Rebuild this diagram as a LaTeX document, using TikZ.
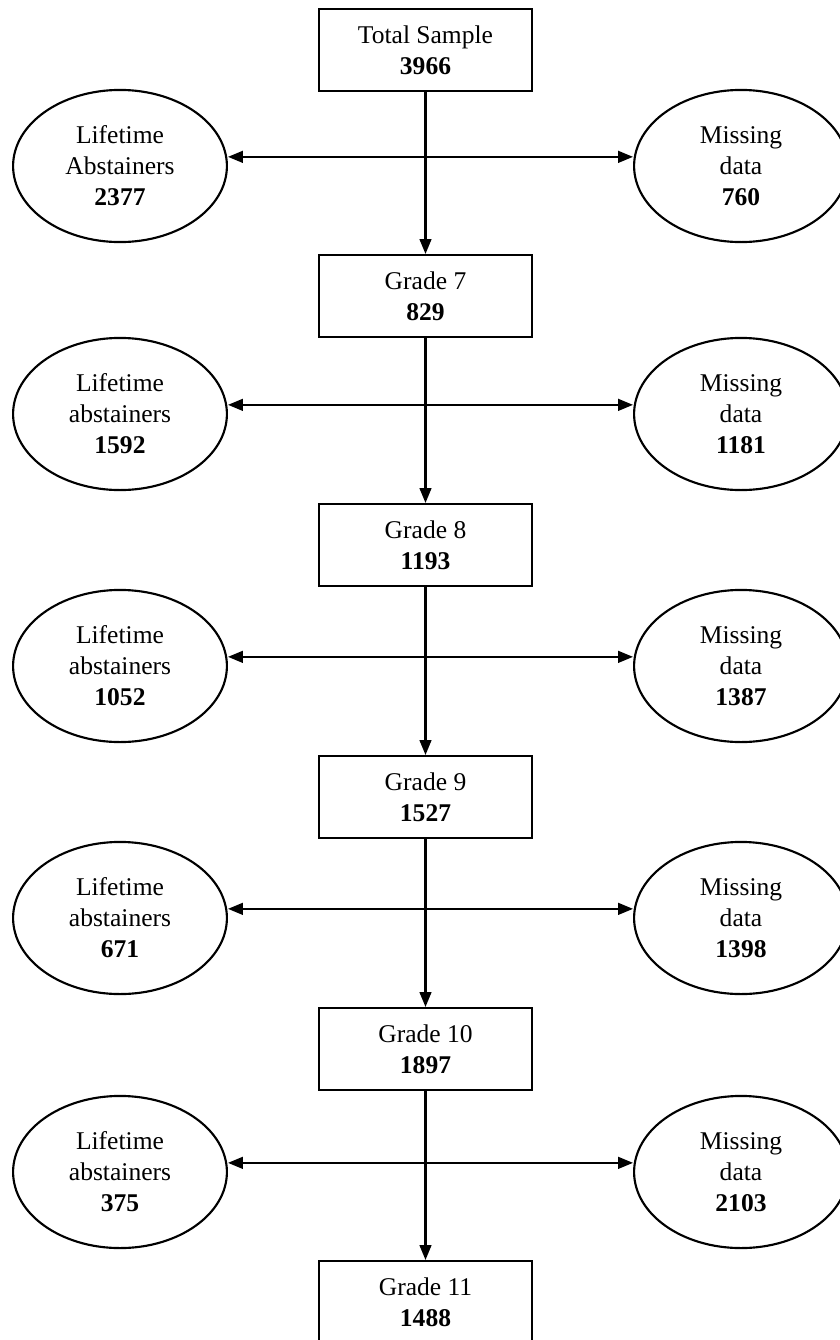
\documentclass[tikz,border=0pt]{standalone}
\usepackage{fontspec}
\setmainfont{Liberation Serif}
\usetikzlibrary{arrows.meta,shapes.geometric}

\begin{document}
\begin{tikzpicture}[x=0.47pt, y=-0.47pt, line width=1pt,
	every node/.style={font=\fontsize{12}{14.6}\selectfont, align=center},
	>={Triangle[length=7pt,width=5.5pt]},
	stage/.style={draw, minimum width=100pt, minimum height=38.5pt, inner sep=0pt},
	side/.style={draw, ellipse, minimum width=100.5pt, minimum height=71.5pt, inner sep=0pt}]
	\useasboundingbox (0,0) rectangle (839,1340);
	% grades down the middle
	\foreach \i/\y/\t/\n in {0/50/Total Sample/3966, 1/296/Grade 7/829, 2/545/Grade 8/1193, 3/797/Grade 9/1527, 4/1049/Grade 10/1897, 5/1302/Grade 11/1488}
		\node[stage] (g\i) at (425.5,\y) {\t\\\textbf{\n}};
	% abstainers and missing data on both sides
	\foreach \i/\y/\w/\a/\m in {1/166/Abstainers/2377/760, 2/414/abstainers/1592/1181, 3/666/abstainers/1052/1387, 4/918/abstainers/671/1398, 5/1172/abstainers/375/2103} {
		\node[side] (la\i) at (120,\y) {Lifetime\\\w\\\textbf{\a}};
		\node[side] (md\i) at (741,\y) {Missing\\data\\\textbf{\m}};
		\draw[<->] ([yshift=4.3pt]la\i.east) -- ([yshift=4.3pt]md\i.west);
	}
	\foreach \i/\j in {0/1, 1/2, 2/3, 3/4, 4/5}
		\draw[->] (g\i) -- (g\j);
\end{tikzpicture}
\end{document}
